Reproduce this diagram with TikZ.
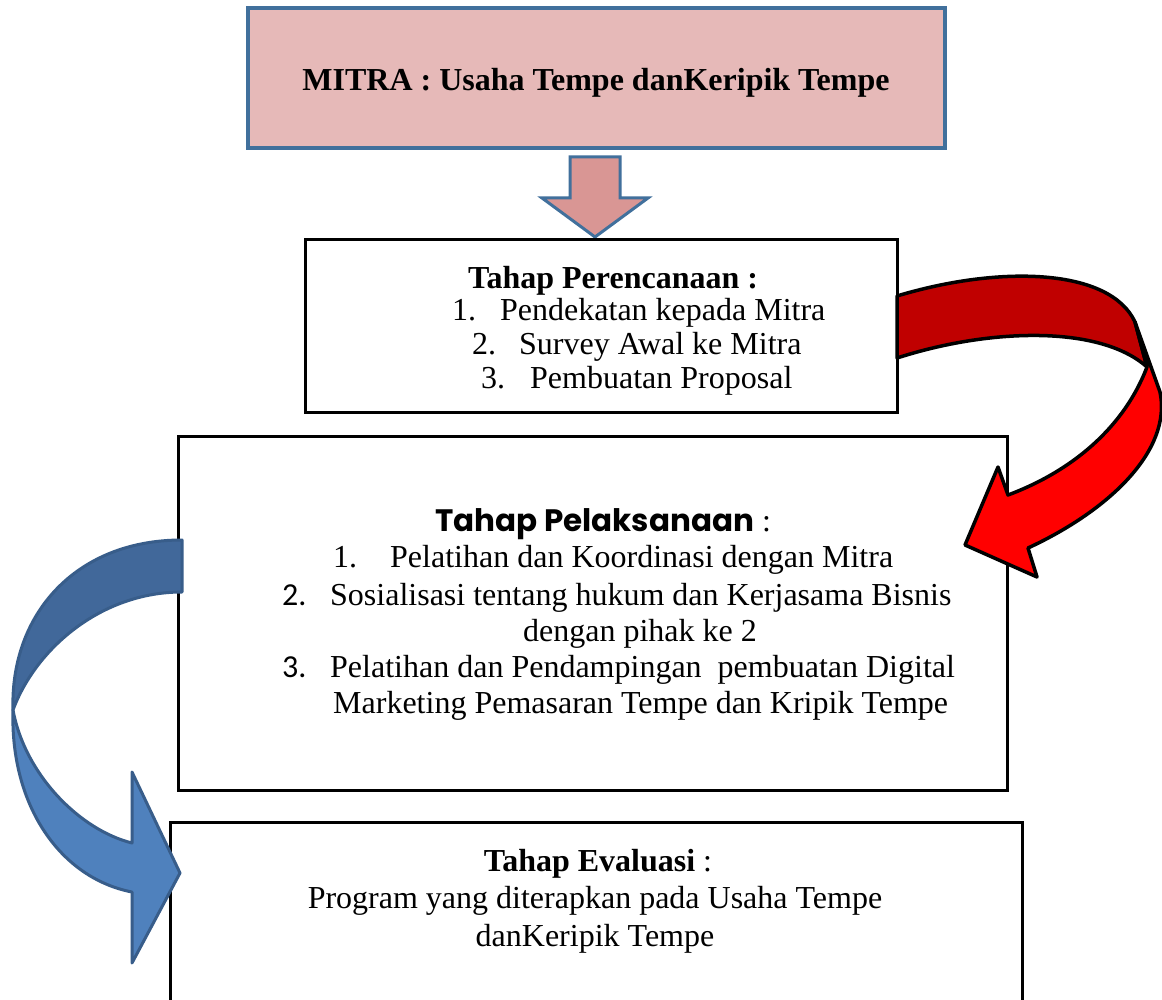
\documentclass[tikz,border=0pt]{standalone}
\usepackage{fontspec}
\setmainfont{Liberation Serif}
\newfontfamily\geofont{Poppins}
\newfontfamily\numfont{Carlito}
\usetikzlibrary{positioning}

\definecolor{mitrapink}{HTML}{E6B9B8}
\definecolor{mitrablue}{HTML}{41709C}
\definecolor{downpink}{HTML}{D99694}
\definecolor{darkred}{HTML}{C00000}
\definecolor{brightred}{HTML}{FF0000}
\definecolor{backblue}{HTML}{41689A}
\definecolor{frontblue}{HTML}{4F81BD}
\definecolor{edgeblue}{HTML}{385D8A}

\begin{document}
\begin{tikzpicture}[
  x=1pt, y=-1pt,
  font=\fontsize{32}{37}\selectfont,
  stagebox/.style={draw=black, line width=3pt, fill=white, inner sep=0pt},
  titlebox/.style={draw=mitrablue, line width=3.5pt, fill=mitrapink, inner sep=0pt},
  txt/.style={anchor=base west, inner sep=0pt},
  ctxt/.style={anchor=base, inner sep=0pt},
  bold/.style={font=\fontsize{32}{37}\selectfont\bfseries},
  ribbon/.style={draw=black, line width=3.5pt, line join=round},
  blueribbon/.style={draw=edgeblue, line width=3pt, line join=round},
]
\clip (0,0) rectangle (1162,1000);
\fill[white] (0,0) rectangle (1162,1000);

% Boxes
\node[titlebox, minimum width=697pt, minimum height=140pt] (mitra) at (596.5,78) {};
\draw[draw=mitrablue, line width=3pt, fill=downpink, line join=miter]
  (570,157) -- (620,157) -- (620,198) -- (648,198) -- (595,237)
  -- (542,198) -- (570,198) -- cycle;
\node[stagebox, minimum width=592pt, minimum height=172pt] (plan) at (601,326) {};
\node[stagebox, minimum width=829pt, minimum height=354pt] (exec) at (592.5,613) {};
\node[stagebox, minimum width=852pt, minimum height=190pt] (eval) at (596,917) {};

% Texts
\node[ctxt, bold] (mitratitle) at (596,91) {MITRA : Usaha Tempe danKeripik Tempe};

\node[txt, bold] (planhead) at (468,289) {Tahap Perencanaan :};
\node[txt] (plannum1) at (452,320) {1.};
\node[txt] (planitem1) at (500,320) {Pendekatan kepada Mitra};
\node[txt] (plannum2) at (472,354) {2.};
\node[txt] (planitem2) at (519,354) {Survey Awal ke Mitra};
\node[txt] (plannum3) at (481,388) {3.};
\node[txt] (planitem3) at (530,388) {Pembuatan Proposal};

\node[txt] (exechead) at (435,531)
  {{\fontsize{31}{36}\selectfont\geofont\bfseries Tahap Pelaksanaan} :};
\node[txt] (execnum1) at (333,567) {1.};
\node[txt] (execitem1) at (390,567) {Pelatihan dan Koordinasi dengan Mitra};
\node[txt] (execnum2) at (282,605) {\numfont 2.};
\node[txt] (execitem2) at (330,605) {Sosialisasi tentang hukum dan Kerjasama Bisnis};
\node[ctxt] (execitem2b) at (640,641) {dengan pihak ke 2};
\node[txt] (execnum3) at (282,677) {\numfont 3.};
\node[txt] (execitem3) at (330,677) {Pelatihan dan Pendampingan\ \ pembuatan Digital};
\node[txt] (execitem3b) at (333,713) {Marketing Pemasaran Tempe dan Kripik Tempe};

\node[ctxt] (evalhead) at (598,871) {\textbf{Tahap Evaluasi} :};
\node[ctxt] (evalline1) at (595,908) {Program yang diterapkan pada Usaha Tempe};
\node[ctxt] (evalline2) at (595,946) {danKeripik Tempe};

% Red curved arrow: plan -> exec
\draw[ribbon, fill=darkred]
  (897,296) .. controls (1000,265) and (1110,268) .. (1135,322)
  -- (1147,367) .. controls (1100,325) and (990,328) .. (897,358) -- cycle;
\draw[ribbon, fill=brightred]
  (1147,367) .. controls (1125,425) and (1075,470) .. (1008,495)
  -- (998,467) -- (965,545) -- (1037,577) -- (1028,548)
  .. controls (1110,510) and (1172,450) .. (1160,392) -- (1135,322) -- cycle;

% Blue curved arrow: exec -> eval
\draw[blueribbon, fill=backblue]
  (182,540) .. controls (75,540) and (10,615) .. (13,710)
  .. controls (35,650) and (100,592) .. (182,592) -- cycle;
\draw[blueribbon, fill=frontblue]
  (13,710) .. controls (10,805) and (60,878) .. (132,892)
  -- (132,963) -- (180,873) -- (132,772) -- (132,843)
  .. controls (80,830) and (25,775) .. (13,710) -- cycle;
\end{tikzpicture}
\end{document}
